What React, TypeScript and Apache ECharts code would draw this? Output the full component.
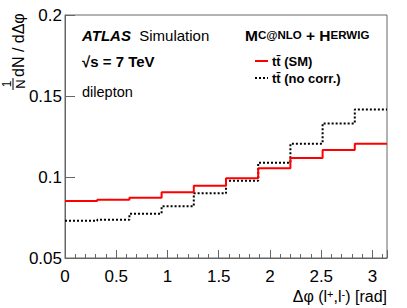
import React, { useEffect, useRef } from "react";
import * as echarts from "echarts";

const binEdges = [0, 0.3142, 0.6283, 0.9425, 1.2566, 1.5708, 1.885, 2.1991, 2.5133, 2.8274, 3.1416];
const smValues = [0.0852, 0.086, 0.0872, 0.0906, 0.0946, 0.0992, 0.1054, 0.1117, 0.1167, 0.1206];
const noCorrValues = [0.073, 0.0736, 0.0773, 0.0819, 0.0899, 0.0977, 0.1088, 0.1206, 0.1331, 0.1416];
const xTicks = [0, 0.5, 1, 1.5, 2, 2.5, 3];
const yTicks = [0.05, 0.1, 0.15, 0.2];

const FONT = "'Liberation Sans', Arial, Helvetica, sans-serif";

function histData(vals: number[]) {
  const d: number[][] = vals.map((v, i) => [binEdges[i], v]);
  d.push([binEdges[binEdges.length - 1], vals[vals.length - 1]]);
  return d;
}

export default function App() {
  const ref = useRef<HTMLDivElement>(null);
  useEffect(() => {
    if (!ref.current) return;
    const chart = echarts.init(ref.current, undefined, { renderer: "svg" });
    const axisColor = "#666";
    chart.setOption({
      animation: false,
      backgroundColor: "#fff",
      grid: { left: 65, right: 20, top: 15, bottom: 50, show: true, borderColor: axisColor, borderWidth: 1 },
      xAxis: {
        type: "value",
        min: binEdges[0],
        max: binEdges[binEdges.length - 1],
        interval: 0.5,
        axisLine: { show: true, lineStyle: { color: axisColor, width: 1 } },
        axisTick: { show: true, inside: true, length: 8, lineStyle: { color: axisColor } },
        minorTick: { show: true, splitNumber: 5, length: 4, lineStyle: { color: axisColor } },
        splitLine: { show: false },
        axisLabel: {
          margin: 10,
          fontSize: 17,
          fontFamily: FONT,
          color: "#000",
          showMaxLabel: false,
          formatter: (v: number) => (xTicks.includes(Math.round(v * 100) / 100) ? String(Math.round(v * 100) / 100) : ""),
        },
      },
      yAxis: {
        type: "value",
        min: yTicks[0],
        max: yTicks[yTicks.length - 1],
        interval: 0.05,
        axisLine: { show: true, lineStyle: { color: axisColor, width: 1 } },
        axisTick: { show: true, inside: true, length: 10, lineStyle: { color: axisColor } },
        splitLine: { show: false },
        axisLabel: {
          margin: 3,
          fontSize: 17,
          fontFamily: FONT,
          color: "#000",
          formatter: (v: number) => String(Math.round(v * 100) / 100),
        },
      },
      series: [
        {
          type: "line",
          step: "end",
          data: histData(noCorrValues),
          showSymbol: false,
          lineStyle: { color: "#000", width: 2, type: [2, 2] },
          z: 2,
        },
        {
          type: "line",
          step: "end",
          data: histData(smValues),
          showSymbol: false,
          lineStyle: { color: "#ff0000", width: 2 },
          z: 3,
        },
      ],
      graphic: [
        // y-axis title
        {
          type: "text",
          x: 18,
          y: 77,
          rotation: Math.PI / 2,
          style: { text: "dN / dΔφ", font: `16px ${FONT}`, fill: "#000", textAlign: "left", textVerticalAlign: "middle" },
        },
        {
          type: "text",
          x: 7,
          y: 84,
          rotation: Math.PI / 2,
          style: { text: "1", font: `12px ${FONT}`, fill: "#000", textAlign: "center", textVerticalAlign: "middle" },
        },
        {
          type: "line",
          shape: { x1: 13, y1: 78, x2: 13, y2: 90 },
          style: { stroke: "#000", lineWidth: 1 },
        },
        {
          type: "text",
          x: 20,
          y: 84,
          rotation: Math.PI / 2,
          style: { text: "N", font: `13px ${FONT}`, fill: "#000", textAlign: "center", textVerticalAlign: "middle" },
        },
        // x-axis title
        {
          type: "text",
          right: 20,
          top: 288,
          style: {
            text: "{a|Δφ (l}{s|+}{a|,l}{s|-}{a|) [rad]}",
            fill: "#000",
            rich: {
              a: { font: `16px ${FONT}`, fill: "#000" },
              s: { font: `11px ${FONT}`, fill: "#000", verticalAlign: "top", padding: [0, 0, 6, 0] },
            },
          },
        },
        // ATLAS label
        {
          type: "text",
          x: 82,
          y: 43,
          style: {
            text: "{b|ATLAS}{r|  Simulation}",
            textVerticalAlign: "bottom",
            rich: {
              b: { font: `italic bold 15px ${FONT}`, fill: "#000" },
              r: { font: `15px ${FONT}`, fill: "#000" },
            },
          },
        },
        {
          type: "text",
          x: 82,
          y: 69,
          style: { text: "√s = 7 TeV", font: `bold 15px ${FONT}`, fill: "#000", textVerticalAlign: "bottom" },
        },
        {
          type: "text",
          x: 82,
          y: 99,
          style: { text: "dilepton", font: `14.5px ${FONT}`, fill: "#000", textVerticalAlign: "bottom" },
        },
        // generator label
        {
          type: "text",
          x: 245,
          y: 43,
          style: {
            text: "{L|M}{s|C@NLO}{L| + H}{s|ERWIG}",
            textVerticalAlign: "bottom",
            rich: {
              L: { font: `bold 15.5px ${FONT}`, fill: "#000" },
              s: { font: `bold 11.5px ${FONT}`, fill: "#000" },
            },
          },
        },
        // legend
        {
          type: "line",
          shape: { x1: 255, y1: 61, x2: 268, y2: 61 },
          style: { stroke: "#ff0000", lineWidth: 2 },
        },
        {
          type: "text",
          x: 272,
          y: 61,
          style: { text: "tt\u0304 (SM)", font: `bold 13px ${FONT}`, fill: "#000", textVerticalAlign: "middle" },
        },
        {
          type: "line",
          shape: { x1: 255, y1: 78, x2: 268, y2: 78 },
          style: { stroke: "#000", lineWidth: 2, lineDash: [2, 2] },
        },
        {
          type: "text",
          x: 272,
          y: 78,
          style: { text: "tt\u0304 (no corr.)", font: `bold 13px ${FONT}`, fill: "#000", textVerticalAlign: "middle" },
        },
      ],
    });
    return () => chart.dispose();
  }, []);
  return <div ref={ref} style={{ width: 407, height: 308, position: "absolute", left: 0, top: 0 }} />;
}
